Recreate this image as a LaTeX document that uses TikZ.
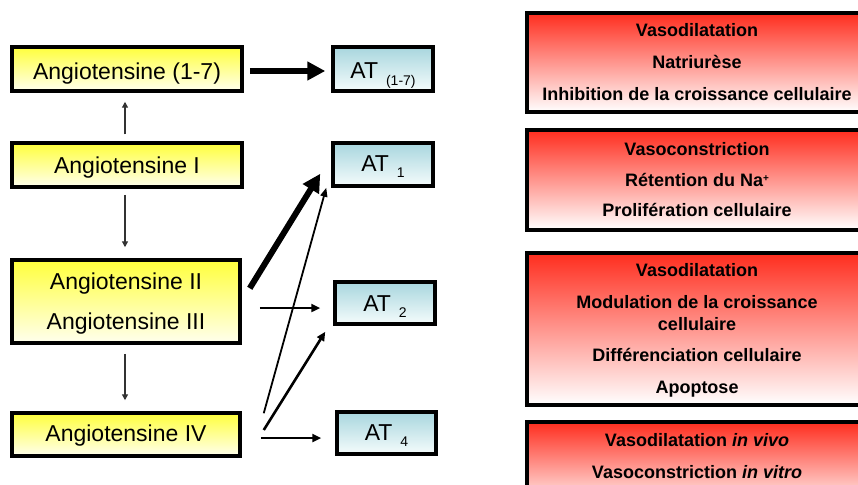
\documentclass[tikz,border=0pt]{standalone}
\usepackage{fontspec}
\setmainfont{Liberation Sans}
\usetikzlibrary{arrows.meta,calc}
\definecolor{ytop}{RGB}{255,255,60}
\definecolor{ybot}{RGB}{255,255,238}
\definecolor{btop}{RGB}{168,214,222}
\definecolor{bbot}{RGB}{245,252,252}
\definecolor{rtop}{RGB}{255,45,30}
\definecolor{rbot}{RGB}{255,255,255}
\newcommand{\bigtxt}{\fontsize{23}{23}\selectfont}
\newcommand{\subtxt}{\fontsize{14}{14}\selectfont}
\newcommand{\redtxt}{\fontsize{18}{18}\selectfont\bfseries}
\newcommand{\ATlab}[1]{\bigtxt AT\hspace{8pt}\raisebox{-6pt}{\subtxt #1}}
\begin{document}
\begin{tikzpicture}[x=1pt,y=-1pt,
  ybox/.style={draw=black,line width=3.5pt,top color=ytop,bottom color=ybot,minimum width=230pt,minimum height=44pt,inner sep=0pt},
  bbox/.style={draw=black,line width=3.5pt,top color=btop,bottom color=bbot,minimum width=100pt,minimum height=43pt,inner sep=0pt},
  rbox/.style={draw=none,top color=rtop,bottom color=rbot,minimum width=331pt,inner sep=0pt},
  redge/.style={draw=black,line width=3.5pt},
  ltxt/.style={anchor=base,inner sep=0pt,font=\bigtxt},
  rtxt/.style={anchor=base,inner sep=0pt,font=\redtxt},
  thinarr/.style={draw=black!80,line width=1.3pt,-{Triangle[length=6pt,width=6pt]}},
  medarr/.style={draw=black,line width=2.6pt,-{Triangle[length=9pt,width=8pt]}},
  diagarr/.style={draw=black,line width=1.8pt,-{Triangle[length=9pt,width=7pt]}},
  fatarr/.style={draw=black,line width=6pt,-{Triangle[length=18pt,width=18pt]}}
]
\useasboundingbox (0,0) rectangle (858,484);
\clip (0,0) rectangle (858,484);
\fill[white] (0,0) rectangle (858,484);

% left yellow boxes
\node[ybox] (a17) at (127,69) {};
\node[ybox] (ang1) at (127,165) {};
\node[ybox,minimum width=228pt,minimum height=83pt] (ang2) at (126,301.5) {};
\node[ybox,minimum width=228pt,minimum height=43pt] (ang4) at (126,434.5) {};
\node[ltxt] (t17) at (127,79.3) {Angiotensine (1-7)};
\node[ltxt] (t1) at (127,173.3) {Angiotensine I};
\node[ltxt] (t2) at (126,289.3) {Angiotensine II};
\node[ltxt] (t3) at (126,329.3) {Angiotensine III};
\node[ltxt] (t4) at (126,441.7) {Angiotensine IV};

% blue boxes
\node[bbox,minimum height=44pt] (at17) at (383,69) {};
\node[bbox] (at1) at (383,164.5) {};
\node[bbox,minimum height=42pt] (at2) at (385,303) {};
\node[bbox,minimum width=99pt,minimum height=42pt] (at4) at (386.5,433) {};
\node[anchor=base,inner sep=0pt] (l17) at (383,79) {\ATlab{(1-7)}};
\node[anchor=base,inner sep=0pt] (l1) at (383,171.7) {\ATlab{1}};
\node[anchor=base,inner sep=0pt] (l2) at (385,311) {\ATlab{2}};
\node[anchor=base,inner sep=0pt] (l4) at (386.5,440) {\ATlab{4}};

% red boxes (cut off by the picture's right and bottom edges)
\node[rbox,minimum height=99pt] (r1) at (692.5,62.5) {};
\node[rbox,minimum height=100pt] (r2) at (692.5,180) {};
\node[rbox,minimum height=152pt] (r3) at (692.5,329) {};
\node[rbox,minimum height=88pt] (r4) at (692.5,466) {};
\foreach \r in {r1,r2,r3,r4}
  \draw[redge] ([xshift=3pt]\r.north east) -- (\r.north west) -- (\r.south west) -- ([xshift=3pt]\r.south east);
\node[rtxt] (r1a) at (697,36.7) {Vasodilatation};
\node[rtxt] (r1b) at (697,68.3) {Natriurèse};
\node[rtxt] (r1c) at (697,100) {Inhibition de la croissance cellulaire};
\node[rtxt] (r2a) at (697,155) {Vasoconstriction};
\node[rtxt] (r2b) at (697,186) {Rétention du Na\raisebox{5pt}{\fontsize{10}{10}\selectfont +}};
\node[rtxt] (r2c) at (697,216.7) {Prolifération cellulaire};
\node[rtxt] (r3a) at (697,276.7) {Vasodilatation};
\node[rtxt] (r3b) at (697,308.3) {Modulation de la croissance};
\node[rtxt] (r3c) at (697,330) {cellulaire};
\node[rtxt] (r3d) at (697,361.7) {Différenciation cellulaire};
\node[rtxt] (r3e) at (697,393.3) {Apoptose};
\node[rtxt] (r4a) at (697,446.7) {Vasodilatation \textit{in vivo}};
\node[rtxt] (r4b) at (697,478.3) {Vasoconstriction \textit{in vitro}};

% arrows
\draw[thinarr] ($(ang1.north)+(-2,-7)$) -- ($(a17.south)+(-2,9)$);
\draw[thinarr] ($(ang1.south)+(-2,6)$) -- ($(ang2.north)+(-1,-11)$);
\draw[thinarr] ($(ang2.south)+(-1,9)$) -- ($(ang4.north)+(-1,-11)$);
\draw[fatarr] ($(a17.east)+(6,2)$) -- ($(at17.west)+(-6,2)$);
\draw[fatarr] ($(ang2.north east)+(8,30)$) -- ($(at1.south west)+(-11,-14)$);
\draw[diagarr] ($(ang4.north east)+(22,2)$) -- ($(at1.south west)+(-5,0)$);
\draw[medarr] ($(ang2.east)+(18,6.5)$) -- ($(at2.west)+(-13,5)$);
\draw[medarr] ($(ang4.east)+(22,-4.5)$) -- ($(at2.south west)+(-8,6)$);
\draw[medarr] ($(ang4.east)+(19,3.5)$) -- ($(at4.west)+(-14,5)$);
\end{tikzpicture}
\end{document}
